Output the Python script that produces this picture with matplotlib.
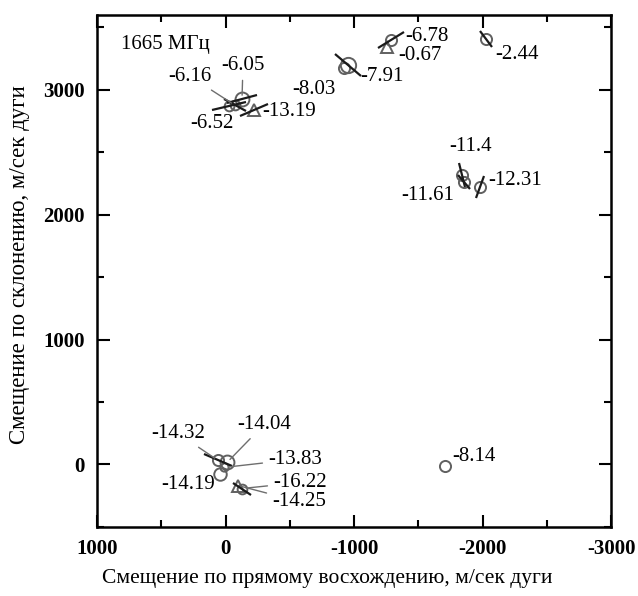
import numpy as np
import matplotlib
matplotlib.use("Agg")
import matplotlib.pyplot as plt
from matplotlib.markers import MarkerStyle
from matplotlib.transforms import Affine2D

plt.rcParams['font.family'] = ['Liberation Serif', 'DejaVu Serif']

# spot positions, m/sec of arc (RA offset, Dec offset) and velocities
ra = [-128, -74, -27, -222, -922, -953, -1288, -1257, -2027,
      -1840, -1856, -1981, -1708, 58, -12, 12, 43, -128, -97]
dec = [2924, 2876, 2867, 2835, 3173, 3197, 3398, 3341, 3405,
       2321, 2265, 2225, -16, 32, 16, -24, -80, -193, -169]
vel = ["-6.05", "-6.16", "-6.52", "-13.19", "-8.03", "-7.91", "-6.78", "-0.67", "-2.44",
       "-11.4", "-11.61", "-12.31", "-8.14", "-14.32", "-14.04", "-13.83", "-14.19", "-16.22", "-14.25"]
kind = ["o", "o", "o", "^", "o", "o", "o", "^", "o",
        "o", "o", "o", "o", "o", "o", "o", "o", "o", "^"]
msize = [10, 7, 7, 8, 8, 11, 8, 8, 8, 8, 8, 8, 8, 8, 10, 6, 9, 7, 8]
# polarization vector: screen angle (deg) and length (px); nan = no vector
pa = [15, -30, 12, 25, np.nan, -40, 33, np.nan, -56,
      -75, -50, 68, np.nan, -22, np.nan, np.nan, np.nan, -35, np.nan]
plen = [32, 26, 34, 30, 0, 34, 30, 0, 20, 24, 18, 24, 0, 30, 0, 0, 0, 22, 0]

# label offsets in pixels, alignment, leader line
lab_dx = [1, -45, -17, 8, -30, 12, 14, 11, 9, 8, -36, 8, 7, -40, 37, 44, -32, 31, 34]
lab_dy = [34, 29, -17, -1, -21, -11, 4, -8, -15, 28, -14, 6, 10, 27, 38, 8, -10, 6, -16]
lab_ha = ["center", "center", "center", "left", "center", "left", "left", "left", "left",
          "center", "center", "left", "left", "center", "center", "left", "center", "left", "left"]
leader = [1, 1, 0, 0, 0, 0, 0, 0, 0, 0, 0, 0, 0, 1, 1, 1, 0, 1, 1]

fig = plt.figure(figsize=(6.38, 5.96), dpi=100)
ax = fig.add_axes([0.152, 0.116, 0.806, 0.859])

px2pt = 72 / 100.0
for i in range(len(ra)):
    ax.plot(ra[i], dec[i], kind[i], ms=msize[i], mfc='none', mec='#606060', mew=1.4, zorder=3)
    if not np.isnan(pa[i]):
        m = MarkerStyle('|', transform=Affine2D().rotate_deg(pa[i] - 90))
        ax.plot(ra[i], dec[i], marker=m, ms=plen[i] * px2pt, mec='#1a1a1a', mew=1.6, ls='none', zorder=4)

    if leader[i]:
        ap = dict(arrowstyle='-', color='#6e6e6e', lw=1.0, shrinkA=2, shrinkB=3)
    else:
        ap = None
    ax.annotate(vel[i], (ra[i], dec[i]), xytext=(lab_dx[i], lab_dy[i]),
                textcoords='offset pixels', ha=lab_ha[i], va='center',
                fontsize=15, arrowprops=ap, zorder=5)

ax.text(470, 3360, "1665 МГц", fontsize=15, ha='center', va='center')

ax.set_xlim(1000, -3000)
ax.set_ylim(-500, 3600)
ax.set_xticks([1000, 0, -1000, -2000, -3000])
ax.set_xticks([500, -500, -1500, -2500], minor=True)
ax.set_yticks([0, 1000, 2000, 3000])
ax.set_yticks([-500, 500, 1500, 2500, 3500], minor=True)
ax.set_xticklabels(["1000", "0", "-1000", "-2000", "-3000"], fontweight='bold', fontsize=15)
ax.set_yticklabels(["0", "1000", "2000", "3000"], fontweight='bold', fontsize=15)
ax.tick_params(which='both', direction='in', top=True, right=True, width=1.5)
ax.tick_params(which='major', length=9, pad=9)
ax.tick_params(which='minor', length=5)
for s in ax.spines.values():
    s.set_linewidth(1.8)

ax.set_xlabel("Смещение по прямому восхождению, м/сек дуги", fontsize=15.5)
ax.xaxis.set_label_coords(0.447, -0.082)
ax.set_ylabel("Смещение по склонению, м/сек дуги", fontsize=16.5)
ax.yaxis.set_label_coords(-0.13, 0.512)

fig.savefig("out.png", dpi=100)
